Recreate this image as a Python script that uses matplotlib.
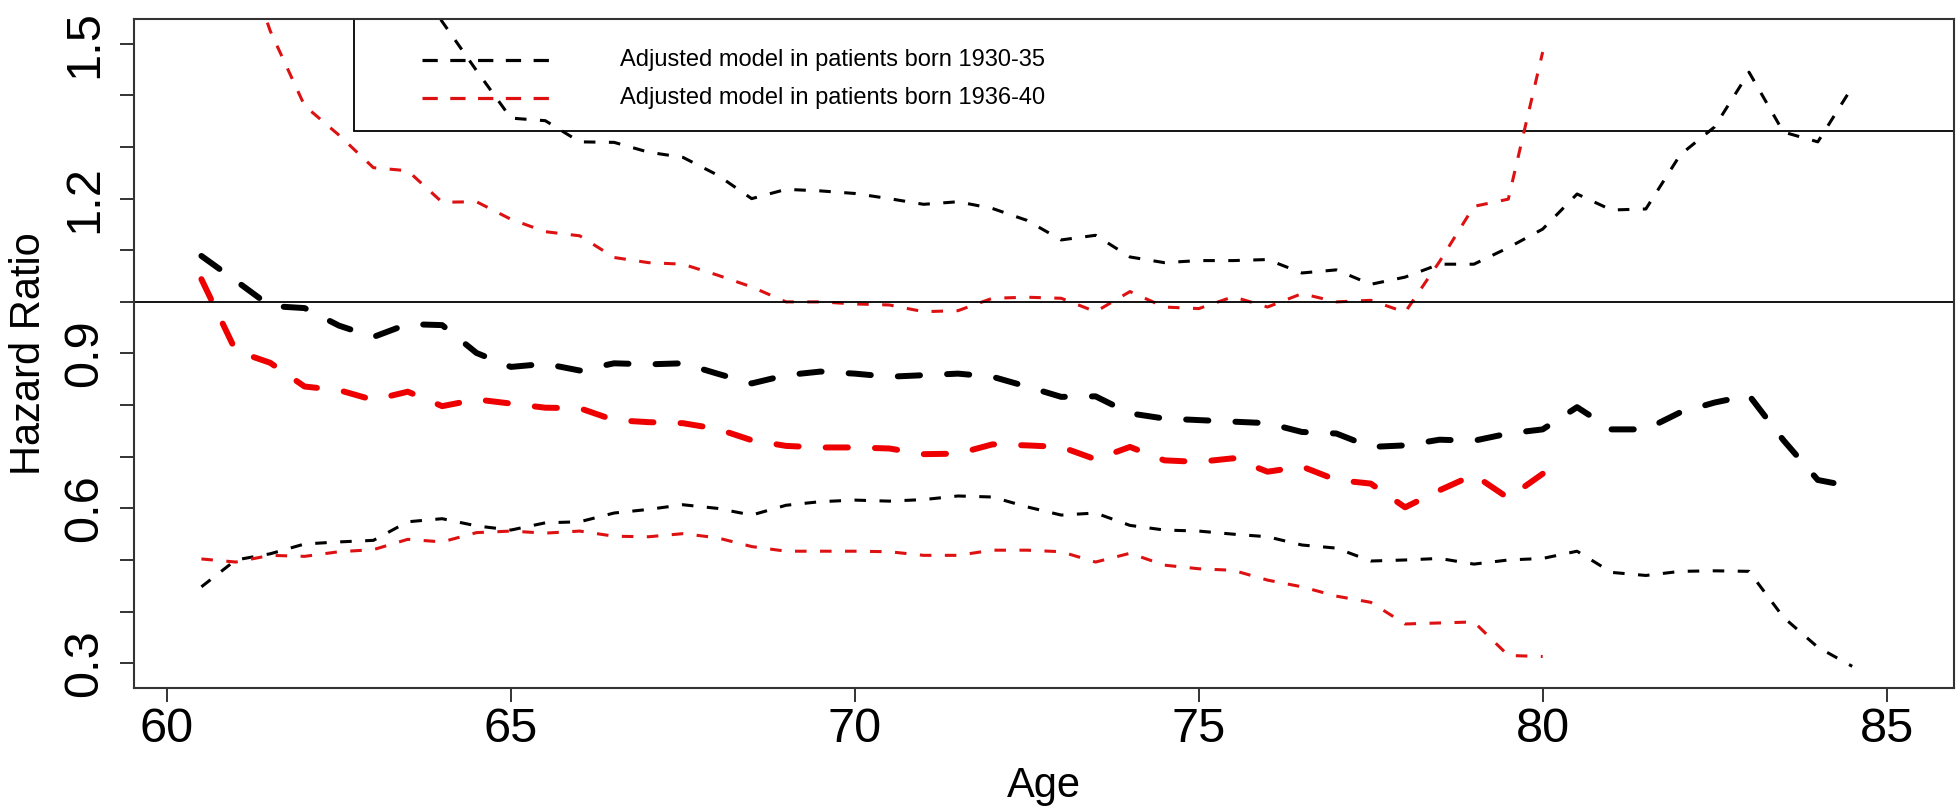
import matplotlib

matplotlib.use("Agg")

import matplotlib.pyplot as plt
from matplotlib.lines import Line2D
from matplotlib.patches import Rectangle

plt.rcParams["font.family"] = ["Liberation Sans", "DejaVu Sans"]
plt.rcParams["lines.scale_dashes"] = False

# ages, half-year steps
age_1930 = [
    60.5, 61.0, 61.5, 62.0, 62.5, 63.0, 63.5, 64.0, 64.5, 65.0,
    65.5, 66.0, 66.5, 67.0, 67.5, 68.0, 68.5, 69.0, 69.5, 70.0,
    70.5, 71.0, 71.5, 72.0, 72.5, 73.0, 73.5, 74.0, 74.5, 75.0,
    75.5, 76.0, 76.5, 77.0, 77.5, 78.0, 78.5, 79.0, 79.5, 80.0,
    80.5, 81.0, 81.5, 82.0, 82.5, 83.0, 83.5, 84.0, 84.5,
]
age_1936 = age_1930[:40]

# born 1930-35: hazard ratio and 95% CI
hr_1930 = [
    1.089, 1.041, 0.992, 0.988, 0.954, 0.932, 0.957, 0.955, 0.901, 0.874,
    0.880, 0.867, 0.881, 0.879, 0.881, 0.861, 0.842, 0.858, 0.865, 0.861,
    0.855, 0.858, 0.861, 0.855, 0.836, 0.816, 0.817, 0.784, 0.774, 0.771,
    0.768, 0.765, 0.748, 0.745, 0.719, 0.722, 0.733, 0.731, 0.745, 0.753,
    0.796, 0.753, 0.753, 0.786, 0.805, 0.819, 0.732, 0.655, 0.642,
]
upper_1930 = [
    2.45, 2.20, 2.00, 1.86, 1.76, 1.69, 1.64, 1.543, 1.448, 1.356,
    1.351, 1.310, 1.309, 1.290, 1.280, 1.246, 1.200, 1.218, 1.215, 1.210,
    1.200, 1.189, 1.194, 1.181, 1.158, 1.120, 1.129, 1.087, 1.076, 1.080,
    1.080, 1.082, 1.056, 1.062, 1.034, 1.048, 1.073, 1.073, 1.105, 1.141,
    1.209, 1.178, 1.180, 1.285, 1.339, 1.445, 1.329, 1.310, 1.416,
]
lower_1930 = [
    0.448, 0.500, 0.512, 0.531, 0.535, 0.538, 0.574, 0.580, 0.566, 0.558,
    0.572, 0.574, 0.591, 0.598, 0.607, 0.600, 0.587, 0.606, 0.613, 0.616,
    0.614, 0.617, 0.624, 0.622, 0.603, 0.587, 0.591, 0.567, 0.558, 0.556,
    0.550, 0.545, 0.529, 0.523, 0.498, 0.500, 0.503, 0.492, 0.500, 0.503,
    0.517, 0.476, 0.470, 0.478, 0.479, 0.478, 0.389, 0.331, 0.294,
]

# born 1936-40
hr_1936 = [
    1.044, 0.905, 0.882, 0.836, 0.829, 0.810, 0.826, 0.798, 0.811, 0.803,
    0.795, 0.794, 0.771, 0.767, 0.765, 0.754, 0.732, 0.721, 0.718, 0.718,
    0.716, 0.705, 0.706, 0.724, 0.722, 0.719, 0.695, 0.719, 0.693, 0.690,
    0.697, 0.671, 0.681, 0.655, 0.648, 0.602, 0.635, 0.665, 0.620, 0.667,
]
upper_1936 = [
    2.30, 1.72, 1.525, 1.38, 1.323, 1.260, 1.254, 1.193, 1.194, 1.160,
    1.136, 1.128, 1.086, 1.076, 1.073, 1.052, 1.029, 1.000, 1.000, 0.996,
    0.994, 0.981, 0.983, 1.007, 1.009, 1.007, 0.981, 1.020, 0.990, 0.987,
    1.010, 0.990, 1.016, 1.000, 1.003, 0.980, 1.078, 1.185, 1.199, 1.484,
]
lower_1936 = [
    0.502, 0.496, 0.509, 0.507, 0.516, 0.520, 0.540, 0.535, 0.553, 0.556,
    0.552, 0.556, 0.546, 0.545, 0.551, 0.543, 0.526, 0.517, 0.517, 0.517,
    0.516, 0.509, 0.509, 0.519, 0.519, 0.516, 0.496, 0.513, 0.490, 0.483,
    0.480, 0.461, 0.448, 0.430, 0.418, 0.376, 0.378, 0.380, 0.315, 0.313,
]

x_ticks = [60, 65, 70, 75, 80, 85]
y_ticks = [0.3, 0.4, 0.5, 0.6, 0.7, 0.8, 0.9, 1.0, 1.1, 1.2, 1.3, 1.4, 1.5]
y_labels = ["0.3", "", "", "0.6", "", "", "0.9", "", "", "1.2", "", "", "1.5"]
legend_labels = [
    "Adjusted model in patients born 1930-35",
    "Adjusted model in patients born 1936-40",
]

RED = "#ee0000"
THIN_RED = "#dd1111"
thick = dict(lw=4.3, dashes=(16, 19.5), dash_capstyle="round")
thin = dict(lw=2.2, dashes=(8.3, 9.7))

fig = plt.figure(figsize=(19.59, 8.09), dpi=100)
ax = fig.add_axes([134 / 1959, 1 - 688 / 809, 1820 / 1959, 669 / 809])

ax.plot(age_1930, hr_1930, color="black", **thick)
ax.plot(age_1930, upper_1930, color="black", **thin)
ax.plot(age_1930, lower_1930, color="black", **thin)
ax.plot(age_1936, hr_1936, color=RED, **thick)
ax.plot(age_1936, upper_1936, color=THIN_RED, **thin)
ax.plot(age_1936, lower_1936, color=THIN_RED, **thin)
ax.axhline(1.0, color="black", lw=1.3)

ax.set_xlim(59.52, 85.98)
ax.set_ylim(0.252, 1.548)
ax.set_xticks(x_ticks)
ax.set_xticklabels([str(t) for t in x_ticks])
ax.set_yticks(y_ticks)
ax.set_yticklabels(y_labels, rotation=90, va="center")

for side in ax.spines.values():
    side.set_color("#333333")
    side.set_linewidth(1.5)
ax.tick_params(axis="both", length=10, width=1.4, color="#333333", labelsize=35)
ax.tick_params(axis="x", pad=3.6)
ax.tick_params(axis="y", pad=9)

ax.set_xlabel("Age", fontsize=30, va="baseline")
ax.xaxis.set_label_coords(0.5, (688 - 797) / 669)
ax.set_ylabel("Hazard Ratio", fontsize=30, va="center")
ax.yaxis.set_label_coords((29 - 134) / 1820, 0.5)

# legend box drawn by hand, no fill, like the R legend
x0 = (354 - 134) / 1820
y0 = 1 - (131 - 19) / 669
ax.add_patch(Rectangle((x0, y0), 1 - x0, 1 - y0, transform=ax.transAxes,
                       fill=False, edgecolor="black", lw=1.3, clip_on=False))
for row_y, colour, label in zip([0.9387, 0.8819], ["black", THIN_RED], legend_labels):
    ax.add_line(Line2D([0.1582, 0.2308], [row_y, row_y], transform=ax.transAxes,
                       color=colour, lw=2.3, dashes=(11, 9)))
    ax.text(0.2670, row_y, label, transform=ax.transAxes, fontsize=17,
            va="center", ha="left")

fig.savefig("out.png", dpi=100)
